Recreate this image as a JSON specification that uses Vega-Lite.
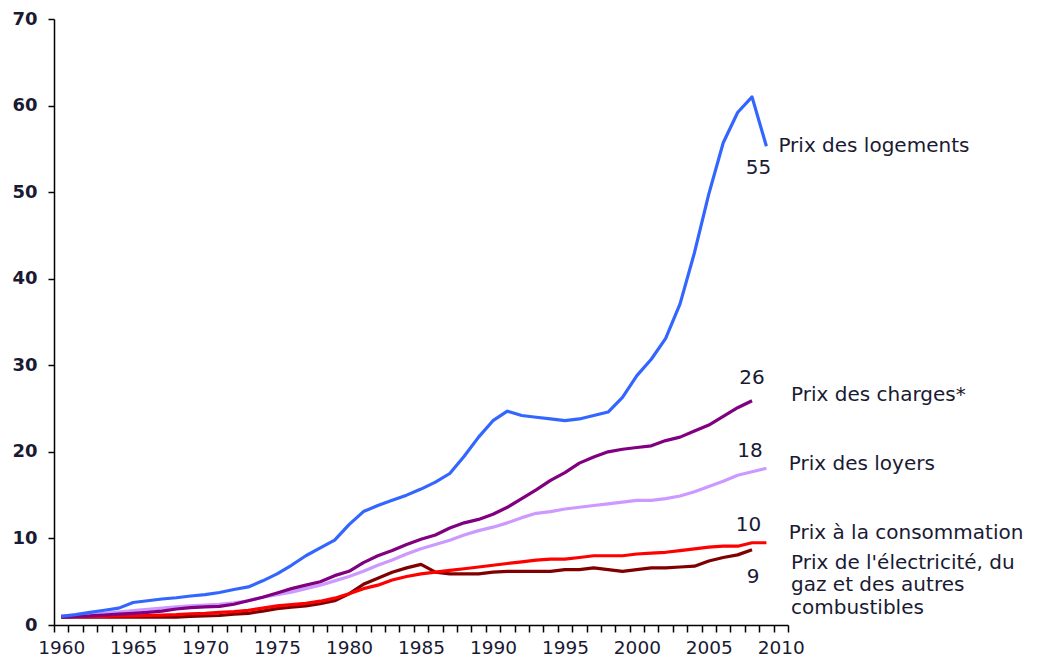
{
  "$schema": "https://vega.github.io/schema/vega-lite/v6.json",
  "width": 734,
  "height": 606,
  "autosize": {"type": "none"},
  "padding": {"left": 54, "top": 19, "right": 264, "bottom": 34},
  "background": "white",
  "config": {
    "view": {"stroke": null},
    "axis": {"grid": false, "title": null, "domainColor": "#000000", "domainWidth": 1.5, "tickColor": "#000000", "tickWidth": 1.5, "labelFont": "DejaVu Sans", "labelColor": "#1a1a33"},
    "text": {"font": "DejaVu Sans", "fontSize": 20, "fill": "#1a1a33"}
  },
  "data": {"values": [
    {"s":"ele","year":1960,"v":0.9},{"s":"ele","year":1961,"v":0.9},{"s":"ele","year":1962,"v":0.9},{"s":"ele","year":1963,"v":0.9},{"s":"ele","year":1964,"v":0.9},{"s":"ele","year":1965,"v":0.9},{"s":"ele","year":1966,"v":0.9},{"s":"ele","year":1967,"v":0.9},{"s":"ele","year":1968,"v":0.9},{"s":"ele","year":1969,"v":1.0},
    {"s":"ele","year":1970,"v":1.05},{"s":"ele","year":1971,"v":1.1},{"s":"ele","year":1972,"v":1.25},{"s":"ele","year":1973,"v":1.35},{"s":"ele","year":1974,"v":1.6},{"s":"ele","year":1975,"v":1.9},{"s":"ele","year":1976,"v":2.05},{"s":"ele","year":1977,"v":2.2},{"s":"ele","year":1978,"v":2.45},{"s":"ele","year":1979,"v":2.8},
    {"s":"ele","year":1980,"v":3.6},{"s":"ele","year":1981,"v":4.7},{"s":"ele","year":1982,"v":5.4},{"s":"ele","year":1983,"v":6.1},{"s":"ele","year":1984,"v":6.6},{"s":"ele","year":1985,"v":7.0},{"s":"ele","year":1986,"v":6.1},{"s":"ele","year":1987,"v":5.9},{"s":"ele","year":1988,"v":5.9},{"s":"ele","year":1989,"v":5.9},
    {"s":"ele","year":1990,"v":6.1},{"s":"ele","year":1991,"v":6.2},{"s":"ele","year":1992,"v":6.2},{"s":"ele","year":1993,"v":6.2},{"s":"ele","year":1994,"v":6.2},{"s":"ele","year":1995,"v":6.4},{"s":"ele","year":1996,"v":6.4},{"s":"ele","year":1997,"v":6.6},{"s":"ele","year":1998,"v":6.4},{"s":"ele","year":1999,"v":6.2},
    {"s":"ele","year":2000,"v":6.4},{"s":"ele","year":2001,"v":6.6},{"s":"ele","year":2002,"v":6.6},{"s":"ele","year":2003,"v":6.7},{"s":"ele","year":2004,"v":6.8},{"s":"ele","year":2005,"v":7.4},{"s":"ele","year":2006,"v":7.8},{"s":"ele","year":2007,"v":8.1},{"s":"ele","year":2008,"v":8.7},

    {"s":"con","year":1960,"v":1.0},{"s":"con","year":1961,"v":1.0},{"s":"con","year":1962,"v":1.0},{"s":"con","year":1963,"v":1.0},{"s":"con","year":1964,"v":1.05},{"s":"con","year":1965,"v":1.05},{"s":"con","year":1966,"v":1.1},{"s":"con","year":1967,"v":1.15},{"s":"con","year":1968,"v":1.2},{"s":"con","year":1969,"v":1.3},
    {"s":"con","year":1970,"v":1.35},{"s":"con","year":1971,"v":1.45},{"s":"con","year":1972,"v":1.55},{"s":"con","year":1973,"v":1.7},{"s":"con","year":1974,"v":1.95},{"s":"con","year":1975,"v":2.2},{"s":"con","year":1976,"v":2.35},{"s":"con","year":1977,"v":2.5},{"s":"con","year":1978,"v":2.75},{"s":"con","year":1979,"v":3.1},
    {"s":"con","year":1980,"v":3.6},{"s":"con","year":1981,"v":4.2},{"s":"con","year":1982,"v":4.6},{"s":"con","year":1983,"v":5.2},{"s":"con","year":1984,"v":5.6},{"s":"con","year":1985,"v":5.9},{"s":"con","year":1986,"v":6.1},{"s":"con","year":1987,"v":6.3},{"s":"con","year":1988,"v":6.5},{"s":"con","year":1989,"v":6.7},
    {"s":"con","year":1990,"v":6.9},{"s":"con","year":1991,"v":7.1},{"s":"con","year":1992,"v":7.3},{"s":"con","year":1993,"v":7.5},{"s":"con","year":1994,"v":7.6},{"s":"con","year":1995,"v":7.6},{"s":"con","year":1996,"v":7.8},{"s":"con","year":1997,"v":8.0},{"s":"con","year":1998,"v":8.0},{"s":"con","year":1999,"v":8.0},
    {"s":"con","year":2000,"v":8.2},{"s":"con","year":2001,"v":8.3},{"s":"con","year":2002,"v":8.4},{"s":"con","year":2003,"v":8.6},{"s":"con","year":2004,"v":8.8},{"s":"con","year":2005,"v":9.0},{"s":"con","year":2006,"v":9.1},{"s":"con","year":2007,"v":9.1},{"s":"con","year":2008,"v":9.5},{"s":"con","year":2009,"v":9.5},

    {"s":"loy","year":1960,"v":1.0},{"s":"loy","year":1961,"v":1.1},{"s":"loy","year":1962,"v":1.2},{"s":"loy","year":1963,"v":1.35},{"s":"loy","year":1964,"v":1.5},{"s":"loy","year":1965,"v":1.65},{"s":"loy","year":1966,"v":1.8},{"s":"loy","year":1967,"v":1.95},{"s":"loy","year":1968,"v":2.1},{"s":"loy","year":1969,"v":2.2},
    {"s":"loy","year":1970,"v":2.3},{"s":"loy","year":1971,"v":2.4},{"s":"loy","year":1972,"v":2.55},{"s":"loy","year":1973,"v":2.8},{"s":"loy","year":1974,"v":3.2},{"s":"loy","year":1975,"v":3.5},{"s":"loy","year":1976,"v":3.8},{"s":"loy","year":1977,"v":4.2},{"s":"loy","year":1978,"v":4.6},{"s":"loy","year":1979,"v":5.1},
    {"s":"loy","year":1980,"v":5.6},{"s":"loy","year":1981,"v":6.2},{"s":"loy","year":1982,"v":6.9},{"s":"loy","year":1983,"v":7.5},{"s":"loy","year":1984,"v":8.2},{"s":"loy","year":1985,"v":8.8},{"s":"loy","year":1986,"v":9.3},{"s":"loy","year":1987,"v":9.8},{"s":"loy","year":1988,"v":10.4},{"s":"loy","year":1989,"v":10.9},
    {"s":"loy","year":1990,"v":11.3},{"s":"loy","year":1991,"v":11.8},{"s":"loy","year":1992,"v":12.4},{"s":"loy","year":1993,"v":12.9},{"s":"loy","year":1994,"v":13.1},{"s":"loy","year":1995,"v":13.4},{"s":"loy","year":1996,"v":13.6},{"s":"loy","year":1997,"v":13.8},{"s":"loy","year":1998,"v":14.0},{"s":"loy","year":1999,"v":14.2},
    {"s":"loy","year":2000,"v":14.4},{"s":"loy","year":2001,"v":14.4},{"s":"loy","year":2002,"v":14.6},{"s":"loy","year":2003,"v":14.9},{"s":"loy","year":2004,"v":15.4},{"s":"loy","year":2005,"v":16.0},{"s":"loy","year":2006,"v":16.6},{"s":"loy","year":2007,"v":17.3},{"s":"loy","year":2008,"v":17.7},{"s":"loy","year":2009,"v":18.1},

    {"s":"chg","year":1960,"v":0.9},{"s":"chg","year":1961,"v":1.0},{"s":"chg","year":1962,"v":1.05},{"s":"chg","year":1963,"v":1.15},{"s":"chg","year":1964,"v":1.25},{"s":"chg","year":1965,"v":1.35},{"s":"chg","year":1966,"v":1.45},{"s":"chg","year":1967,"v":1.6},{"s":"chg","year":1968,"v":1.85},{"s":"chg","year":1969,"v":2.0},
    {"s":"chg","year":1970,"v":2.1},{"s":"chg","year":1971,"v":2.15},{"s":"chg","year":1972,"v":2.4},{"s":"chg","year":1973,"v":2.8},{"s":"chg","year":1974,"v":3.2},{"s":"chg","year":1975,"v":3.7},{"s":"chg","year":1976,"v":4.2},{"s":"chg","year":1977,"v":4.6},{"s":"chg","year":1978,"v":5.0},{"s":"chg","year":1979,"v":5.7},
    {"s":"chg","year":1980,"v":6.2},{"s":"chg","year":1981,"v":7.2},{"s":"chg","year":1982,"v":8.0},{"s":"chg","year":1983,"v":8.6},{"s":"chg","year":1984,"v":9.3},{"s":"chg","year":1985,"v":9.9},{"s":"chg","year":1986,"v":10.4},{"s":"chg","year":1987,"v":11.2},{"s":"chg","year":1988,"v":11.8},{"s":"chg","year":1989,"v":12.2},
    {"s":"chg","year":1990,"v":12.8},{"s":"chg","year":1991,"v":13.6},{"s":"chg","year":1992,"v":14.6},{"s":"chg","year":1993,"v":15.6},{"s":"chg","year":1994,"v":16.7},{"s":"chg","year":1995,"v":17.6},{"s":"chg","year":1996,"v":18.7},{"s":"chg","year":1997,"v":19.4},{"s":"chg","year":1998,"v":20.0},{"s":"chg","year":1999,"v":20.3},
    {"s":"chg","year":2000,"v":20.5},{"s":"chg","year":2001,"v":20.7},{"s":"chg","year":2002,"v":21.3},{"s":"chg","year":2003,"v":21.7},{"s":"chg","year":2004,"v":22.4},{"s":"chg","year":2005,"v":23.1},{"s":"chg","year":2006,"v":24.1},{"s":"chg","year":2007,"v":25.1},{"s":"chg","year":2008,"v":25.9},

    {"s":"log","year":1960,"v":1.0},{"s":"log","year":1961,"v":1.2},{"s":"log","year":1962,"v":1.45},{"s":"log","year":1963,"v":1.7},{"s":"log","year":1964,"v":1.95},{"s":"log","year":1965,"v":2.6},{"s":"log","year":1966,"v":2.8},{"s":"log","year":1967,"v":3.0},{"s":"log","year":1968,"v":3.15},{"s":"log","year":1969,"v":3.35},
    {"s":"log","year":1970,"v":3.5},{"s":"log","year":1971,"v":3.75},{"s":"log","year":1972,"v":4.1},{"s":"log","year":1973,"v":4.4},{"s":"log","year":1974,"v":5.1},{"s":"log","year":1975,"v":5.9},{"s":"log","year":1976,"v":6.9},{"s":"log","year":1977,"v":8.0},{"s":"log","year":1978,"v":8.9},{"s":"log","year":1979,"v":9.8},
    {"s":"log","year":1980,"v":11.6},{"s":"log","year":1981,"v":13.1},{"s":"log","year":1982,"v":13.8},{"s":"log","year":1983,"v":14.4},{"s":"log","year":1984,"v":15.0},{"s":"log","year":1985,"v":15.7},{"s":"log","year":1986,"v":16.5},{"s":"log","year":1987,"v":17.5},{"s":"log","year":1988,"v":19.5},{"s":"log","year":1989,"v":21.7},
    {"s":"log","year":1990,"v":23.6},{"s":"log","year":1991,"v":24.7},{"s":"log","year":1992,"v":24.2},{"s":"log","year":1993,"v":24.0},{"s":"log","year":1994,"v":23.8},{"s":"log","year":1995,"v":23.6},{"s":"log","year":1996,"v":23.8},{"s":"log","year":1997,"v":24.2},{"s":"log","year":1998,"v":24.6},{"s":"log","year":1999,"v":26.3},
    {"s":"log","year":2000,"v":28.8},{"s":"log","year":2001,"v":30.7},{"s":"log","year":2002,"v":33.1},{"s":"log","year":2003,"v":37.1},{"s":"log","year":2004,"v":43.0},{"s":"log","year":2005,"v":49.8},{"s":"log","year":2006,"v":55.7},{"s":"log","year":2007,"v":59.2},{"s":"log","year":2008,"v":61.0},{"s":"log","year":2009,"v":55.3}
  ]},
  "encoding": {
    "x": {"field": "year", "type": "quantitative",
      "scale": {"domain": [1959.5, 2010.5], "nice": false, "zero": false},
      "axis": {
        "values": [1959.5,1960.5,1961.5,1962.5,1963.5,1964.5,1965.5,1966.5,1967.5,1968.5,1969.5,1970.5,1971.5,1972.5,1973.5,1974.5,1975.5,1976.5,1977.5,1978.5,1979.5,1980.5,1981.5,1982.5,1983.5,1984.5,1985.5,1986.5,1987.5,1988.5,1989.5,1990.5,1991.5,1992.5,1993.5,1994.5,1995.5,1996.5,1997.5,1998.5,1999.5,2000.5,2001.5,2002.5,2003.5,2004.5,2005.5,2006.5,2007.5,2008.5,2009.5,2010.5],
        "labelExpr": "(datum.value + 0.5) % 5 == 0 ? '' + (datum.value + 0.5) : ''",
        "labelOffset": 7.2,
        "labelOverlap": false,
        "labelBound": false,
        "labelFlush": false,
        "labelFontSize": 18.5,
        "labelPadding": 6,
        "tickSize": 7
      }
    },
    "y": {"field": "v", "type": "quantitative",
      "scale": {"domain": [0, 70], "nice": false},
      "axis": {"values": [0,10,20,30,40,50,60,70], "labelFontSize": 18, "labelFontWeight": "bold", "labelPadding": 11, "tickSize": 6, "labelOverlap": false, "labelBound": false, "labelFlush": false}
    }
  },
  "layer": [
    {
      "mark": {"type": "line", "strokeWidth": 3.2, "strokeJoin": "round", "clip": false},
      "encoding": {
        "color": {"field": "s", "type": "nominal", "legend": null,
          "scale": {"domain": ["ele","con","loy","chg","log"], "range": ["#800000","#ff0000","#cc99ff","#800080","#3366ff"]}}
      }
    },
    {
      "transform": [{"filter": "datum.s == 'log' && datum.year == 2009"}],
      "mark": {"type": "text", "align": "center", "baseline": "alphabetic", "dx": -8, "dy": 27.6},
      "encoding": {"text": {"field": "v", "type": "quantitative", "format": ".0f"}}
    },
    {
      "transform": [{"filter": "datum.s == 'log' && datum.year == 2009"}],
      "mark": {"type": "text", "align": "left", "baseline": "alphabetic", "dx": 12, "dy": 6, "text": "Prix des logements"}
    },
    {
      "transform": [{"filter": "datum.s == 'chg' && datum.year == 2008"}],
      "mark": {"type": "text", "align": "center", "baseline": "alphabetic", "dx": 0, "dy": -17},
      "encoding": {"text": {"field": "v", "type": "quantitative", "format": ".0f"}}
    },
    {
      "transform": [{"filter": "datum.s == 'chg' && datum.year == 2008"}],
      "mark": {"type": "text", "align": "left", "baseline": "alphabetic", "dx": 39, "dy": 0, "text": "Prix des charges*"}
    },
    {
      "transform": [{"filter": "datum.s == 'loy' && datum.year == 2009"}],
      "mark": {"type": "text", "align": "center", "baseline": "alphabetic", "dx": -16.5, "dy": -11},
      "encoding": {"text": {"field": "v", "type": "quantitative", "format": ".0f"}}
    },
    {
      "transform": [{"filter": "datum.s == 'loy' && datum.year == 2009"}],
      "mark": {"type": "text", "align": "left", "baseline": "alphabetic", "dx": 22.4, "dy": 1.7, "text": "Prix des loyers"}
    },
    {
      "transform": [{"filter": "datum.s == 'con' && datum.year == 2009"}],
      "mark": {"type": "text", "align": "center", "baseline": "alphabetic", "dx": -18, "dy": -12},
      "encoding": {"text": {"field": "v", "type": "quantitative", "format": ".0f"}}
    },
    {
      "transform": [{"filter": "datum.s == 'con' && datum.year == 2009"}],
      "mark": {"type": "text", "align": "left", "baseline": "alphabetic", "dx": 22.4, "dy": -3.7, "text": "Prix à la consommation"}
    },
    {
      "transform": [{"filter": "datum.s == 'ele' && datum.year == 2008"}],
      "mark": {"type": "text", "align": "center", "baseline": "alphabetic", "dx": 1, "dy": 33.4},
      "encoding": {"text": {"field": "v", "type": "quantitative", "format": ".0f"}}
    },
    {
      "transform": [{"filter": "datum.s == 'ele' && datum.year == 2008"}],
      "mark": {"type": "text", "align": "left", "baseline": "alphabetic", "dx": 39, "dy": 19, "lineHeight": 22.5, "text": ["Prix de l'électricité, du", "gaz et des autres", "combustibles"]}
    }
  ]
}
